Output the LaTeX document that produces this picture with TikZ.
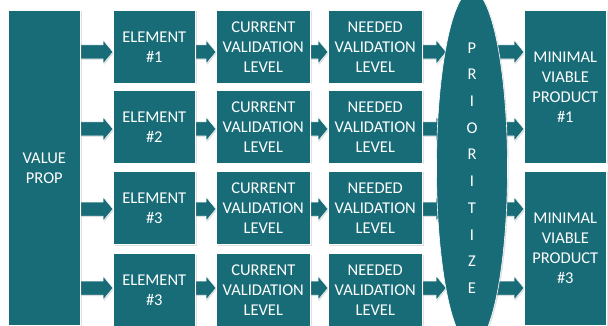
\documentclass[tikz,border=0pt]{standalone}
\usepackage{fontspec}
\setmainfont{Carlito}
\usetikzlibrary{shapes.geometric,shadows,calc}
\definecolor{teal1}{RGB}{24,108,119}
\pgfdeclarelayer{bglayer}
\pgfdeclarelayer{arrowlayer}
\pgfsetlayers{bglayer,arrowlayer,main}
\tikzset{
  box/.style={fill=teal1, draw=white, line width=0.6pt, anchor=north west,
    inner sep=0pt, align=center, text=white,
    font=\fontsize{16.5}{20}\selectfont,
    drop shadow={opacity=0.25, shadow xshift=1.2pt, shadow yshift=-1.2pt}},
  ell/.style={ellipse, fill=teal1, draw=white, line width=0.6pt,
    inner sep=0pt, align=center, text=white,
    minimum width=71pt, minimum height=314pt,
    font=\fontsize{16.5}{26.7}\selectfont,
    drop shadow={opacity=0.25, shadow xshift=1.2pt, shadow yshift=-1.2pt}},
  arr/.style={fill=teal1, draw=white, line width=0.5pt,
    drop shadow={opacity=0.25, shadow xshift=1pt, shadow yshift=-1pt}},
}
\newcommand\blockarrow[2]{%
  \path[arr] let \p1=(#1), \p2=(#2) in
    (\x1,\y1+7pt) -- (\x2-10pt,\y1+7pt) -- (\x2-10pt,\y1+12pt) -- (\x2,\y1)
    -- (\x2-10pt,\y1-12pt) -- (\x2-10pt,\y1-7pt) -- (\x1,\y1-7pt) -- cycle;}
\begin{document}
\begin{tikzpicture}[x=1pt,y=-1pt]
\begin{pgfonlayer}{bglayer}
\fill[white] (0,0) rectangle (608,326);
\end{pgfonlayer}
\useasboundingbox (0,0) rectangle (608,326);

\node[box, minimum width=72pt, minimum height=315pt] (vp) at (8,10) {VALUE\\PROP};

\node[box, minimum width=82pt, minimum height=73pt] (e1) at (113,10)  {ELEMENT\\\#1};
\node[box, minimum width=82pt, minimum height=73pt] (e2) at (113,90)  {ELEMENT\\\#2};
\node[box, minimum width=82pt, minimum height=73pt] (e3) at (113,171) {ELEMENT\\\#3};
\node[box, minimum width=82pt, minimum height=73pt] (e4) at (113,253) {ELEMENT\\\#3};

\node[box, minimum width=94pt, minimum height=73pt] (c1) at (216,10)  {CURRENT\\VALIDATION\\LEVEL};
\node[box, minimum width=94pt, minimum height=73pt] (c2) at (216,90)  {CURRENT\\VALIDATION\\LEVEL};
\node[box, minimum width=94pt, minimum height=73pt] (c3) at (216,171) {CURRENT\\VALIDATION\\LEVEL};
\node[box, minimum width=94pt, minimum height=73pt] (c4) at (216,253) {CURRENT\\VALIDATION\\LEVEL};

\node[box, minimum width=94pt, minimum height=73pt] (n1) at (328,10)  {NEEDED\\VALIDATION\\LEVEL};
\node[box, minimum width=94pt, minimum height=73pt] (n2) at (328,90)  {NEEDED\\VALIDATION\\LEVEL};
\node[box, minimum width=94pt, minimum height=73pt] (n3) at (328,171) {NEEDED\\VALIDATION\\LEVEL};
\node[box, minimum width=94pt, minimum height=73pt] (n4) at (328,253) {NEEDED\\VALIDATION\\LEVEL};

\node[ell] (pz) at (472,168) {P\\R\\I\\O\\R\\I\\T\\I\\Z\\E};

\node[box, minimum width=82pt, minimum height=153pt] (m1) at (524,10)  {MINIMAL\\VIABLE\\PRODUCT\\\#1};
\node[box, minimum width=82pt, minimum height=154pt] (m3) at (524,171) {MINIMAL\\VIABLE\\PRODUCT\\\#3};

\coordinate (r1) at (0,52);
\coordinate (r2) at (0,129);
\coordinate (r3) at (0,209);
\coordinate (r4) at (0,288);

\begin{pgfonlayer}{arrowlayer}
\blockarrow{vp.east |- r1}{e1.west |- r1}
\blockarrow{vp.east |- r2}{e2.west |- r2}
\blockarrow{vp.east |- r3}{e3.west |- r3}
\blockarrow{vp.east |- r4}{e4.west |- r4}

\blockarrow{e1.east |- r1}{c1.west |- r1}
\blockarrow{e2.east |- r2}{c2.west |- r2}
\blockarrow{e3.east |- r3}{c3.west |- r3}
\blockarrow{e4.east |- r4}{c4.west |- r4}

\blockarrow{c1.east |- r1}{n1.west |- r1}
\blockarrow{c2.east |- r2}{n2.west |- r2}
\blockarrow{c3.east |- r3}{n3.west |- r3}
\blockarrow{c4.east |- r4}{n4.west |- r4}

\blockarrow{n1.east |- r1}{$(pz.west |- r1)+(10,0)$}
\blockarrow{n2.east |- r2}{$(pz.west |- r2)+(10,0)$}
\blockarrow{n3.east |- r3}{$(pz.west |- r3)+(10,0)$}
\blockarrow{n4.east |- r4}{$(pz.west |- r4)+(10,0)$}

\blockarrow{$(pz.east |- r1)+(-13,0)$}{m1.west |- r1}
\blockarrow{$(pz.east |- r2)+(-13,0)$}{m1.west |- r2}
\blockarrow{$(pz.east |- r3)+(-13,0)$}{m3.west |- r3}
\blockarrow{$(pz.east |- r4)+(-13,0)$}{m3.west |- r4}
\end{pgfonlayer}
\end{tikzpicture}
\end{document}
